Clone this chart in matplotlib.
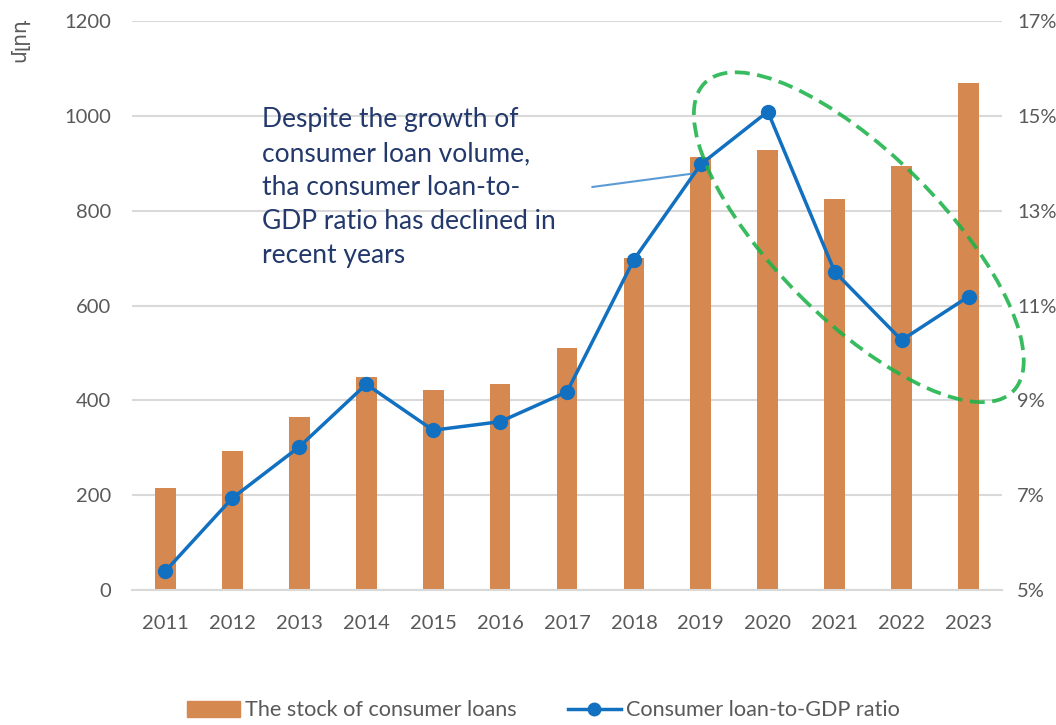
import matplotlib
matplotlib.use("Agg")
import matplotlib.pyplot as plt
from matplotlib.patches import Ellipse
from matplotlib.lines import Line2D
from matplotlib.patches import Patch
from matplotlib.transforms import IdentityTransform
from matplotlib.ticker import FuncFormatter

years = ["2011", "2012", "2013", "2014", "2015", "2016", "2017",
         "2018", "2019", "2020", "2021", "2022", "2023"]
loan_stock = [216, 294, 364, 450, 422, 434, 510, 700, 914, 928, 824, 894, 1070]
loan_to_gdp = [5.4, 6.94, 8.02, 9.34, 8.37, 8.55, 9.18, 11.97, 13.98, 15.09, 11.71, 10.27, 11.19]
left_ticks = [0, 200, 400, 600, 800, 1000, 1200]
right_ticks = [5, 7, 9, 11, 13, 15, 17]

note = ("Despite the growth of\nconsumer loan volume,\ntha consumer loan-to-\n"
        "GDP ratio has declined in\nrecent years")

plt.rcParams["font.family"] = ["Lato", "DejaVu Sans"]
bar_color = "#d5884f"
line_color = "#1270c0"
tick_color = "#595959"
grid_color = "#d9d9d9"

fig = plt.figure(figsize=(10.56, 7.25), dpi=100)
ax = fig.add_axes([0.125, 0.1862, 0.8239, 0.7848])
x = list(range(len(years)))

ax.bar(x, loan_stock, width=0.31, color=bar_color, zorder=2)
ax.set_xlim(-0.5, len(years) - 0.5)
ax.set_ylim(0, 1200)
ax.set_yticks(left_ticks)
ax.set_xticks(x)
ax.set_xticklabels(years)
ax.grid(axis="y", color=grid_color, linewidth=1.5, zorder=0)
ax.set_axisbelow(True)
for side in ["top", "right", "left"]:
    ax.spines[side].set_visible(False)
ax.spines["bottom"].set_color(grid_color)
ax.spines["bottom"].set_linewidth(1.5)
ax.tick_params(axis="both", length=0, labelsize=14.5, labelcolor=tick_color)
ax.tick_params(axis="y", pad=15)
ax.tick_params(axis="x", pad=18)

ax2 = ax.twinx()
ax2.plot(x, loan_to_gdp, color=line_color, linewidth=2.5, marker="o",
         markersize=10, zorder=3)
ax2.set_ylim(5, 17)
ax2.set_yticks(right_ticks)
ax2.yaxis.set_major_formatter(FuncFormatter(lambda v, p: "%d%%" % v))
for side in ["top", "right", "left", "bottom"]:
    ax2.spines[side].set_visible(False)
ax2.tick_params(axis="y", length=0, labelsize=14.5, labelcolor=tick_color, pad=11)

# unit label on the left axis
fig.text(0.019, 0.945, "մլրդ", rotation=90, fontsize=14.5, color=tick_color,
         family=["DejaVu Sans"], ha="center", va="center")

# commentary and its pointer
ax.text(1.445, 1019, note, fontsize=19, color="#23386b", ha="left", va="top",
        linespacing=1.45, zorder=4)
ax.plot([6.38, 7.92], [850, 879], color="#5b9bd5", linewidth=1.5, zorder=4)

# dashed ring around the recent years
fig.canvas.draw()
cx, cy = ax.transData.transform((10.36, 744))
ring = Ellipse((cx, cy), 436, 166, angle=-45, transform=IdentityTransform(),
               fill=False, edgecolor="#1db34a", linewidth=2.7,
               linestyle=(0, (4, 2)), alpha=0.88, zorder=5)
fig.add_artist(ring)

handles = [Patch(color=bar_color),
           Line2D([0], [0], color=line_color, linewidth=2.5, marker="o", markersize=9)]
labels = ["The stock of consumer loans", "Consumer loan-to-GDP ratio"]
leg = fig.legend(handles, labels, loc="center left", bbox_to_anchor=(0.177, 0.02),
                 ncol=2, frameon=False, fontsize=15.6, handlelength=2.45,
                 handletextpad=0.24, columnspacing=2.35, borderpad=0, borderaxespad=0)
for t in leg.get_texts():
    t.set_color(tick_color)

fig.savefig("out.png", dpi=100)
